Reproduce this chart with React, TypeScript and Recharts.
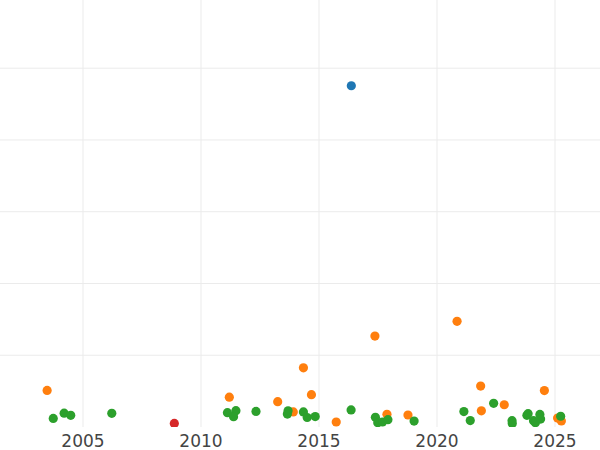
import { ScatterChart, Scatter, XAxis, YAxis, CartesianGrid } from 'recharts';

const blueYears = [2016.37];
const blueValues = [95.1];

const orangeYears = [
    2003.48, 2011.2, 2013.25, 2013.91, 2014.34, 2014.68, 2015.73, 2017.37, 2017.88,
    2018.77, 2020.85, 2021.85, 2021.88, 2022.85, 2024.55, 2025.11, 2025.27,
];
const orangeValues = [
    10.2, 8.3, 7.05, 4.2, 16.5, 9.0, 1.4, 25.35, 3.55,
    3.35, 29.45, 11.4, 4.5, 6.2, 10.15, 2.5, 1.7,
];

const greenYears = [
    2003.74, 2004.2, 2004.48, 2006.22, 2011.12, 2011.48, 2011.38, 2012.33, 2013.69,
    2013.66, 2014.34, 2014.5, 2014.84, 2016.36, 2017.39, 2017.49, 2017.69, 2017.92,
    2019.03, 2021.14, 2021.41, 2022.4, 2023.18, 2023.19, 2023.81, 2023.86, 2024.09,
    2024.17, 2024.36, 2024.39, 2025.24,
];
const greenValues = [
    2.4, 3.85, 3.25, 3.8, 4.0, 4.55, 2.85, 4.35, 4.5,
    3.6, 4.2, 2.65, 2.9, 4.75, 2.7, 1.2, 1.4, 2.05,
    1.65, 4.3, 1.8, 6.6, 1.75, 1.0, 3.25, 3.7, 1.75,
    1.2, 3.5, 2.2, 3.0,
];

const redYears = [2008.87];
const redValues = [1.0];

const xTicks = [2005, 2010, 2015, 2020, 2025];
const yGrid = [20, 40, 60, 80, 100];

const toPoints = (xs: number[], ys: number[]) => xs.map((x, i) => ({ x, y: ys[i] }));

const dot = (color: string) => (props: any) => (
    <circle cx={props.cx} cy={props.cy} r={4.6} fill={color} />
);

export default function App() {
    return (
        <div style={{ position: 'absolute', left: 0, top: 0, fontFamily: 'DejaVu Sans' }}>
            <ScatterChart width={600} height={450} margin={{ top: 0, right: 0, left: 0, bottom: 0 }}>
                <CartesianGrid stroke="#ebebeb" strokeWidth={1} horizontalValues={yGrid} verticalValues={xTicks} />
                <XAxis
                    type="number"
                    dataKey="x"
                    domain={[2001.483, 2026.907]}
                    ticks={xTicks}
                    allowDataOverflow
                    axisLine={false}
                    tickLine={false}
                    height={23}
                    tick={{ fontSize: 17, fill: '#444' }}
                />
                <YAxis type="number" dataKey="y" domain={[0, 119]} hide allowDataOverflow width={0} />
                <Scatter data={toPoints(blueYears, blueValues)} shape={dot('#1f77b4')} isAnimationActive={false} />
                <Scatter data={toPoints(orangeYears, orangeValues)} shape={dot('#ff7f0e')} isAnimationActive={false} />
                <Scatter data={toPoints(greenYears, greenValues)} shape={dot('#2ca02c')} isAnimationActive={false} />
                <Scatter data={toPoints(redYears, redValues)} shape={dot('#d62728')} isAnimationActive={false} />
            </ScatterChart>
        </div>
    );
}
